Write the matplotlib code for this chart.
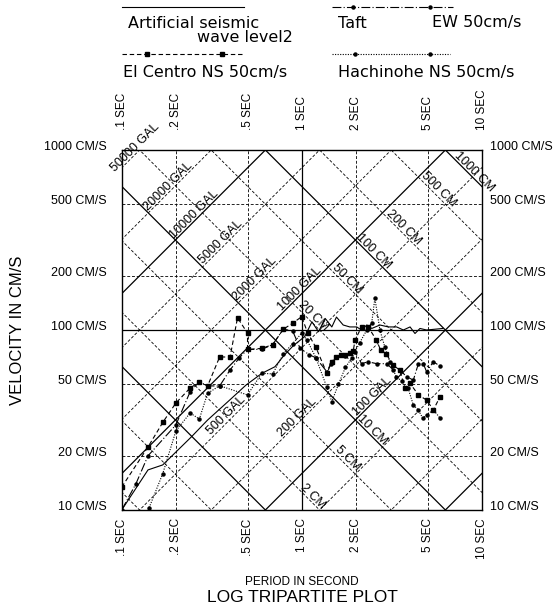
import numpy as np
import matplotlib
matplotlib.use("Agg")
import matplotlib.pyplot as plt
from matplotlib.lines import Line2D

plt.rcParams['font.family'] = ['Liberation Sans', 'DejaVu Sans']

# period / velocity grid
periods = [0.1, 0.2, 0.5, 1, 2, 5, 10]
period_labels = [".1 SEC", ".2 SEC", ".5 SEC", "1 SEC", "2 SEC", "5 SEC", "10 SEC"]
velocities = [10, 20, 50, 100, 200, 500, 1000]
velocity_labels = ["10 CM/S", "20 CM/S", "50 CM/S", "100 CM/S", "200 CM/S", "500 CM/S", "1000 CM/S"]

# diagonal lines: acceleration (GAL) and displacement (CM)
acc_lines = [10, 20, 50, 100, 200, 500, 1000, 2000, 5000, 10000, 20000, 50000]
disp_lines = [0.2, 0.5, 1, 2, 5, 10, 20, 50, 100, 200, 500, 1000]
acc_label_vals = [50000, 20000, 10000, 5000, 2000, 1000, 500, 200, 100]
acc_label_T = [0.124, 0.189, 0.264, 0.372, 0.575, 1.02, 0.40, 0.985, 2.57]
disp_label_vals = [1000, 500, 200, 100, 50, 20, 10, 5, 2]
disp_label_T = [8.66, 5.47, 3.54, 2.41, 1.71, 1.105, 2.35, 1.71, 1.1]

# response spectra (period s, velocity cm/s)
art_T = [0.1, 0.14, 0.169, 0.244, 0.3, 0.4, 0.49, 0.6, 0.71, 0.8, 0.9, 1.04, 1.14, 1.24,
         1.35, 1.47, 1.56, 1.7, 1.85, 2.02, 2.15, 2.3, 2.45, 2.72, 3.03, 3.37, 3.67,
         4.0, 4.26, 4.54, 4.94, 6.1]
art_V = [10, 16.7, 17.8, 25.5, 31.6, 41, 49.4, 57.4, 62.5, 72.5, 82, 92, 111, 97.8,
         116, 104, 118, 106.6, 104, 104, 100, 106.6, 102, 106.6, 104, 104, 100,
         104, 95.6, 102, 100, 102]

taft_T = [0.1, 0.12, 0.14, 0.2, 0.24, 0.27, 0.3, 0.35, 0.4, 0.45, 0.5, 0.6, 0.69, 0.79,
          0.89, 0.98, 1.1, 1.2, 1.38, 1.45, 1.56, 1.75, 1.98, 2.15, 2.34, 2.61, 2.97,
          3.23, 3.51, 3.83, 4.17, 4.45, 4.74, 4.94, 5.39, 5.87]
taft_V = [10, 14, 20, 29.7, 45.4, 51.6, 48.9, 48.9, 60, 70, 78, 78, 83, 101,
          99, 79, 73, 70, 58.6, 65, 71, 72, 75.6, 65, 66.6, 65, 65,
          60, 60, 55, 52.7, 65, 65, 58.6, 66.6, 63]

elc_T = [0.1, 0.14, 0.17, 0.2, 0.24, 0.27, 0.3, 0.35, 0.4, 0.44, 0.5, 0.5, 0.6, 0.69,
         0.79, 0.89, 1.0, 1.08, 1.2, 1.38, 1.47, 1.55, 1.65, 1.75, 1.85, 1.93, 1.98,
         2.15, 2.34, 2.6, 2.75, 2.95, 3.2, 3.5, 3.75, 4.0, 4.45, 4.94, 5.39, 5.87]
elc_V = [13.4, 22.4, 30.9, 39.3, 47.6, 51.4, 48.9, 70.8, 70.8, 117, 96, 78, 79, 83,
         101, 109, 118.6, 96, 80, 57.4, 66.6, 71, 72.8, 73, 74.3, 76, 88,
         104, 104, 88, 77, 74, 64, 60, 47.6, 50.5, 43.6, 40.8, 36, 42.6]

hac_T = [0.142, 0.169, 0.2, 0.24, 0.27, 0.3, 0.35, 0.5, 0.6, 0.69, 0.79, 0.89, 1.0, 1.07,
         1.2, 1.38, 1.47, 1.6, 1.75, 1.9, 2.1, 2.3, 2.45, 2.55, 2.72, 2.9, 3.1, 3.35,
         3.6, 3.9, 4.17, 4.45, 4.7, 4.94, 5.39, 5.87]
hac_V = [10.3, 15.9, 27.5, 34.6, 32, 44.5, 49, 43.6, 57.5, 57, 73.6, 84, 96, 88,
         70, 48, 40, 50, 62, 70, 85, 100, 110, 150, 100, 80, 66, 55,
         52, 47.5, 38.3, 35.9, 32.4, 33.7, 36, 32.4]

W, H = 555, 612
fig = plt.figure(figsize=(W / 100, H / 100), dpi=100)
ax = fig.add_axes([121.7 / W, 1 - 510 / H, 360 / W, 360 / H])
ax.set_xscale('log')
ax.set_yscale('log')
ax.set_xlim(0.1, 10)
ax.set_ylim(10, 1000)
ax.set_xticks([])
ax.set_yticks([])
ax.minorticks_off()
for s in ax.spines.values():
    s.set_linewidth(1.0)

dash = (0, (3.5, 2.2))
# vertical and horizontal grid
for T in periods[1:-1]:
    ax.axvline(T, color='black', lw=0.9 if T == 1 else 0.6,
               ls='-' if T == 1 else dash)
for V in velocities[1:-1]:
    ax.axhline(V, color='black', lw=0.9 if V == 100 else 0.6,
               ls='-' if V == 100 else dash)

# diagonal grid
Tr = np.array([0.05, 20])
for A in acc_lines:
    major = np.isclose(np.log10(A) % 1, 0)
    ax.plot(Tr, A * Tr / (2 * np.pi), color='black', lw=0.9 if major else 0.6,
            ls='-' if major else dash)
for D in disp_lines:
    major = np.isclose(np.log10(D) % 1, 0)
    ax.plot(Tr, 2 * np.pi * D / Tr, color='black', lw=0.9 if major else 0.6,
            ls='-' if major else dash)

lab_font = dict(fontsize=9)
for A, T in zip(acc_label_vals, acc_label_T):
    ax.annotate(f"{A} GAL", xy=(T, A * T / (2 * np.pi)), xytext=(-2.6, 2.6),
                textcoords='offset points', rotation=45, rotation_mode='anchor',
                ha='center', va='center', annotation_clip=False, **lab_font)
for D, T in zip(disp_label_vals, disp_label_T):
    ax.annotate(f"{D} CM", xy=(T, 2 * np.pi * D / T), xytext=(2.6, 2.6),
                textcoords='offset points', rotation=-45, rotation_mode='anchor',
                ha='center', va='center', annotation_clip=False, **lab_font)

# axis tick labels
for T, lbl in zip(periods, period_labels):
    ax.annotate(lbl, xy=(T, 1), xycoords=('data', 'axes fraction'), xytext=(0, 14.4),
                textcoords='offset points', rotation=90, ha='center', va='bottom', fontsize=8.5)
    ax.annotate(lbl, xy=(T, 0), xycoords=('data', 'axes fraction'), xytext=(0, -6),
                textcoords='offset points', rotation=90, ha='center', va='top', fontsize=8.5)
for V, lbl in zip(velocities, velocity_labels):
    ax.annotate(lbl, xy=(0, V), xycoords=('axes fraction', 'data'), xytext=(-10.5, 0),
                textcoords='offset points', ha='right', va='baseline', fontsize=9)
    ax.annotate(lbl, xy=(1, V), xycoords=('axes fraction', 'data'), xytext=(6, 0),
                textcoords='offset points', ha='left', va='baseline', fontsize=9)

fig.text(18 / W, 1 - 330 / H, "VELOCITY IN CM/S", rotation=90, ha='center', va='center', fontsize=12)
fig.text(302 / W, 1 - 582 / H, "PERIOD IN SECOND", ha='center', va='center', fontsize=8.5)
fig.text(302 / W, 1 - 597 / H, "LOG TRIPARTITE PLOT", ha='center', va='center', fontsize=12.5)

# spectra
taft_ls = (0, (8, 2, 1, 2))
elc_ls = (0, (4, 2.5))
hac_ls = (0, (1, 1.3))
ax.plot(art_T, art_V, color='black', lw=0.8)
ax.plot(taft_T, taft_V, color='black', lw=0.8, ls=taft_ls, marker='o', ms=2.2)
ax.plot(elc_T, elc_V, color='black', lw=0.8, ls=elc_ls, marker='s', ms=2.8)
ax.plot(hac_T, hac_V, color='black', lw=0.8, ls=hac_ls, marker='o', ms=2.2)

# legend drawn above the chart
def fig_line(x0, x1, y, ls, marker=None, ms=0, mx=()):
    xs = [x0] + list(mx) + [x1]
    ln = Line2D([x / W for x in xs], [1 - y / H] * len(xs), transform=fig.transFigure,
                color='black', lw=0.8, ls=ls, marker=marker, ms=ms,
                markevery=list(range(1, len(xs) - 1)) if mx else None)
    fig.add_artist(ln)

leg_font = dict(family='DejaVu Sans', fontsize=11.5)
fig_line(122, 244, 7, '-')
fig.text(128 / W, 1 - 23 / H, "Artificial seismic", ha='left', va='center', **leg_font)
fig.text(197 / W, 1 - 37 / H, "wave level2", ha='left', va='center', **leg_font)
fig_line(332, 453, 7, taft_ls, 'o', 2.2, (353, 430))
fig.text(338 / W, 1 - 23 / H, "Taft", ha='left', va='center', **leg_font)
fig.text(432 / W, 1 - 23 / H, "EW 50cm/s", ha='left', va='center', **leg_font)
fig_line(122, 244, 54, elc_ls, 's', 2.8, (147, 222))
fig.text(123 / W, 1 - 72 / H, "El Centro NS 50cm/s", ha='left', va='center', **leg_font)
fig_line(332, 450, 54, hac_ls, 'o', 2.2, (355, 430))
fig.text(338 / W, 1 - 72 / H, "Hachinohe NS 50cm/s", ha='left', va='center', **leg_font)

fig.savefig("out.png", dpi=100)
